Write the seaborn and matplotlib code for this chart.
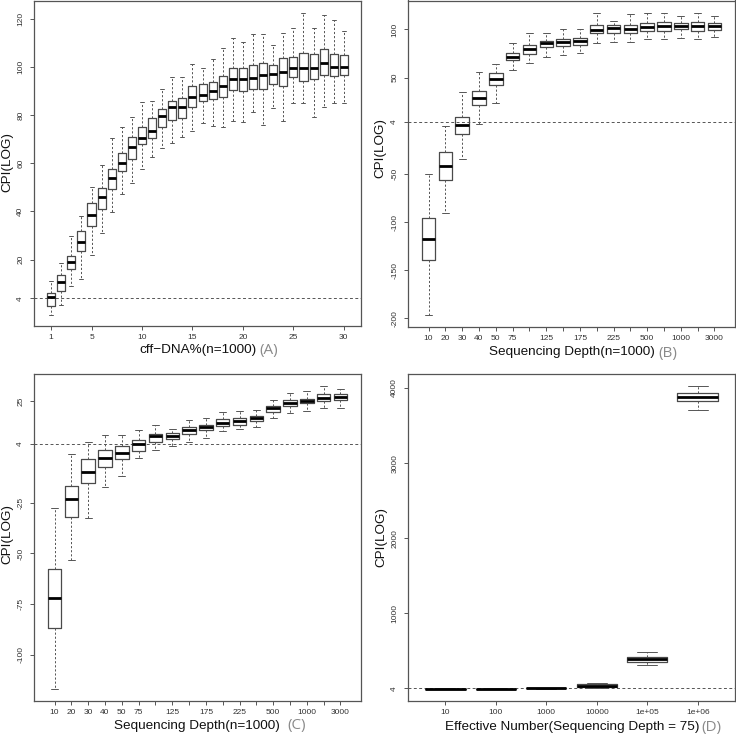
import numpy as np
import pandas as pd
import matplotlib
matplotlib.use("Agg")
import matplotlib.pyplot as plt
import seaborn as sns

# ---- panel A: CPI by cff-DNA% (n=1000), five-number summaries
cff_levels = [str(i) for i in range(1, 31)]
cff_low = [-2.8, 1.1, 9.2, 12.0, 21.8, 30.9, 39.7, 47.3, 51.7, 57.7,
           62.6, 66.5, 68.3, 71.0, 73.5, 76.8, 75.4, 75.2, 77.5, 77.2,
           81.1, 75.9, 83.0, 77.5, 84.8, 84.8, 79.0, 83.4, 84.8, 84.8]
cff_q1 = [1.0, 6.9, 16.1, 23.6, 34.1, 41.1, 49.2, 56.6, 61.7, 67.9,
          70.3, 74.9, 77.9, 78.6, 83.2, 85.8, 86.5, 87.6, 90.3, 90.1,
          91.0, 91.0, 92.7, 92.0, 95.6, 94.1, 94.8, 96.4, 96.0, 96.8]
cff_med = [4.4, 10.8, 18.9, 27.2, 38.6, 45.9, 53.8, 60.3, 66.8, 70.6,
           73.5, 79.4, 83.2, 83.2, 87.3, 88.3, 90.1, 92.0, 94.8, 95.0,
           95.3, 96.4, 97.0, 97.9, 99.3, 99.6, 99.6, 101.5, 99.9, 100.1]
cff_q3 = [6.2, 13.7, 21.5, 31.9, 43.4, 49.7, 57.8, 64.4, 70.8, 74.9,
          78.8, 82.3, 85.9, 86.9, 91.9, 92.7, 93.9, 96.3, 99.3, 99.6,
          100.6, 101.4, 100.6, 103.6, 104.0, 105.9, 105.5, 107.2, 105.5, 105.1]
cff_high = [11.0, 18.6, 29.7, 38.3, 50.3, 59.3, 70.3, 75.2, 79.0, 85.2,
            85.9, 90.6, 95.9, 95.9, 101.1, 99.7, 103.4, 107.6, 112.1, 110.1,
            113.4, 113.4, 109.2, 114.1, 116.3, 122.3, 116.1, 121.4, 119.3, 114.9]
cff_ticks = ["1", "5", "10", "15", "20", "25", "30"]

# ---- panels B and C: CPI by sequencing depth (n=1000)
depth_levels = ["10", "20", "30", "40", "50", "75", "100", "125", "150",
                "175", "200", "225", "250", "500", "750", "1000", "2000", "3000"]
depth_ticklabels = ["10", "20", "30", "40", "50", "75", "", "125", "",
                    "175", "", "225", "", "500", "", "1000", "", "3000"]

b_low = [-196.5, -91.0, -34.9, 1.7, 23.9, 57.8, 65.4, 71.3, 73.4,
         75.8, 85.5, 86.5, 86.5, 89.6, 89.6, 90.7, 89.6, 91.7]
b_q1 = [-139.4, -56.7, -8.7, 21.5, 42.2, 68.2, 74.4, 81.3, 83.0,
        84.1, 95.8, 96.5, 95.8, 98.6, 98.6, 100.0, 98.6, 99.3]
b_med = [-118.0, -41.9, 0.3, 29.1, 48.1, 70.9, 79.6, 85.5, 87.2,
         88.2, 99.3, 101.0, 100.0, 102.8, 103.5, 103.5, 103.8, 103.8]
b_q3 = [-96.2, -27.7, 8.6, 35.6, 54.3, 75.1, 83.4, 88.2, 90.3,
        91.0, 104.5, 104.2, 104.5, 106.2, 108.0, 106.2, 108.0, 106.2]
b_high = [-50.2, 0.0, 35.3, 55.4, 64.0, 85.5, 96.5, 96.5, 100.3,
          100.3, 117.3, 109.0, 115.9, 116.6, 116.6, 114.2, 117.3, 114.2]

c_low = [-116.9, -53.2, -32.4, -17.2, -11.9, -2.9, 1.2, 3.0, 5.0,
         7.0, 10.2, 11.4, 12.5, 16.6, 19.4, 20.1, 21.6, 21.6]
c_q1 = [-86.9, -31.9, -15.2, -7.5, -3.4, 0.6, 5.0, 6.5, 8.9,
        10.7, 12.7, 13.5, 15.2, 19.9, 22.4, 23.9, 25.0, 25.5]
c_med = [-72.1, -23.4, -9.8, -3.2, -0.6, 4.0, 7.8, 8.0, 10.6,
         12.5, 14.3, 15.2, 16.8, 21.7, 24.2, 25.3, 26.6, 27.0]
c_q3 = [-57.8, -16.8, -3.7, 0.9, 2.7, 6.1, 8.9, 9.3, 12.2,
        13.5, 16.0, 16.8, 17.9, 22.7, 25.5, 26.3, 28.4, 28.6]
c_high = [-27.8, -1.2, 5.0, 8.3, 8.3, 10.9, 13.5, 11.5, 15.8,
          16.5, 19.8, 20.2, 20.7, 25.5, 29.1, 29.9, 32.4, 31.2]

# ---- panel D: CPI by effective number (sequencing depth = 75)
eff_levels = ["10", "100", "1000", "10000", "1e+05", "1e+06"]
d_low = [-10, -10, 0, 4, 314, 3703]
d_q1 = [-6, -6, 3, 17, 359, 3832]
d_med = [-3, -3, 6, 40, 390, 3876]
d_q3 = [1, 1, 9, 66, 421, 3929]
d_high = [5, 5, 12, 79, 487, 4022]


def long_frame(levels, low, q1, med, q3, high):
    rows = []
    for lv, vals in zip(levels, zip(low, q1, med, q3, high)):
        for v in vals:
            rows.append((lv, v))
    return pd.DataFrame(rows, columns=["level", "cpi"])


sns.set_theme(style="ticks")
plt.rcParams["font.family"] = ["Liberation Sans", "DejaVu Sans"]

W, H = 736, 735
fig = plt.figure(figsize=(W / 100, H / 100), dpi=100)
fig.patch.set_facecolor("white")


def axes_px(left, top, right, bottom):
    return fig.add_axes([left / W, 1 - bottom / H, (right - left) / W, (bottom - top) / H])


def fx(x):
    return x / W


def fy(y):
    return 1 - y / H


frame_col = "#555555"


def draw(ax, df, order, ylim, yticks, xlim, xticks, xticklabels):
    sns.boxplot(data=df, x="level", y="cpi", order=order, ax=ax,
                whis=(0, 100), width=0.8, fill=False, color="#4a4a4a",
                showfliers=False,
                boxprops=dict(linewidth=0.9, color="#4a4a4a"),
                medianprops=dict(color="black", linewidth=2.0),
                whiskerprops=dict(linestyle=(0, (2.2, 2.0)), linewidth=0.7, color="#555555"),
                capprops=dict(linewidth=0.7, color="#555555"))
    ax.axhline(4, color="#555555", lw=0.7, ls=(0, (3, 2.5)), zorder=0)
    ax.set_xlim(*xlim)
    ax.set_ylim(*ylim)
    ax.set_yticks(yticks)
    ax.set_yticklabels([str(t) for t in yticks])
    ax.set_xticks(xticks)
    ax.set_xticklabels(xticklabels)
    ax.set_xlabel("")
    ax.set_ylabel("")
    ax.tick_params(length=3, width=0.7, color=frame_col, labelsize=6,
                   labelcolor="#333333", pad=3)
    ax.tick_params(axis="y", pad=4)
    for t in ax.get_yticklabels():
        t.set_rotation(90)
        t.set_va("center")
    for s in ax.spines.values():
        s.set_color(frame_col)
        s.set_linewidth(0.9)


# panel A
axA = axes_px(34, 0.5, 361, 326)
draw(axA, long_frame(cff_levels, cff_low, cff_q1, cff_med, cff_q3, cff_high),
     cff_levels, (-7.5, 127.5), [4, 20, 40, 60, 80, 100, 120],
     (-1.7, 30.7), [0, 4, 9, 14, 19, 24, 29], cff_ticks)

# panel B
axB = axes_px(408, 0.5, 735, 327)
draw(axB, long_frame(depth_levels, b_low, b_q1, b_med, b_q3, b_high),
     depth_levels, (-209, 130), [-200, -150, -100, -50, 4, 50, 100],
     (-1.22, 18.22), list(range(len(depth_levels))), depth_ticklabels)

# panel C
axC = axes_px(34, 374, 361, 701)
draw(axC, long_frame(depth_levels, c_low, c_q1, c_med, c_q3, c_high),
     depth_levels, (-122.7, 38.4), [-100, -75, -50, -25, 4, 25],
     (-1.22, 18.22), list(range(len(depth_levels))), depth_ticklabels)

# panel D
axD = axes_px(408, 374, 735, 701)
draw(axD, long_frame(eff_levels, d_low, d_q1, d_med, d_q3, d_high),
     eff_levels, (-165, 4185), [4, 1000, 2000, 3000, 4000],
     (-0.74, 5.74), list(range(len(eff_levels))), eff_levels)

# axis titles and panel tags
lab = dict(fontsize=9.7, color="#111111", ha="center", va="center")
tag = dict(fontsize=11, color="#8a8a8a", ha="center", va="center",
           family=["Open Sans", "DejaVu Sans"])

fig.text(fx(7), fy(162), "CPI(LOG)", rotation=90, **lab)
fig.text(fx(380), fy(148), "CPI(LOG)", rotation=90, **lab)
fig.text(fx(7), fy(534), "CPI(LOG)", rotation=90, **lab)
fig.text(fx(381), fy(537), "CPI(LOG)", rotation=90, **lab)

fig.text(fx(198), fy(350), "cff\u2212DNA%(n=1000)", **lab)
fig.text(fx(269), fy(351), "(A)", **tag)
fig.text(fx(572), fy(352), "Sequencing Depth(n=1000)", **lab)
fig.text(fx(668), fy(353), "(B)", **tag)
fig.text(fx(197), fy(726), "Sequencing Depth(n=1000)", **lab)
fig.text(fx(297), fy(726), "(C)", **tag)
fig.text(fx(572), fy(727), "Effective Number(Sequencing Depth = 75)", **lab)
fig.text(fx(711), fy(727), "(D)", **tag)

fig.savefig("out.png", dpi=100, facecolor="white")
